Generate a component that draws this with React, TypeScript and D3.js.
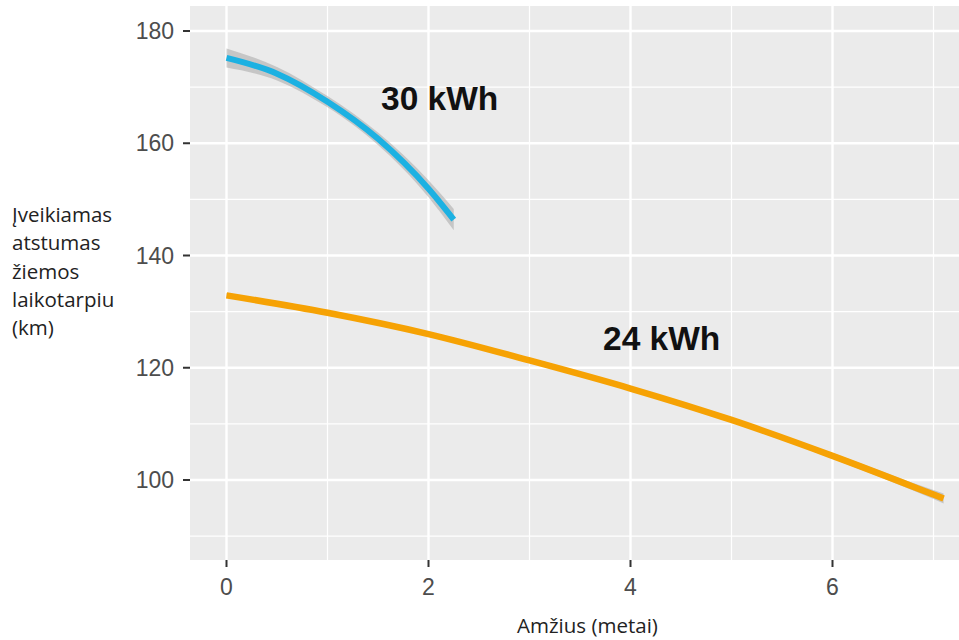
import React from "react";
import * as d3 from "d3";

// Fitted winter range (km) versus vehicle age (years) for two battery sizes
const agesBig = [0, 0.5, 1, 1.5, 2, 2.25];
const rangeBig = [175.2, 172.4, 167.4, 160.8, 151.9, 146.4];
const bandBig = [1.7, 1.2, 1.0, 1.1, 1.5, 1.9];

const agesSmall = [0, 1, 2, 3, 4, 5, 6, 7, 7.1];
const rangeSmall = [132.9, 129.8, 126.0, 121.3, 116.3, 110.7, 104.3, 97.4, 96.7];
const bandSmall = [0.4, 0.3, 0.3, 0.3, 0.3, 0.4, 0.5, 0.8, 0.9];

const xTicks = [0, 2, 4, 6];
const xMinor = [1, 3, 5, 7];
const yTicks = [100, 120, 140, 160, 180];
const yMinor = [90, 110, 130, 150, 170];

const seriesLabels = ["30 kWh", "24 kWh"];
const yTitleLines = ["Įveikiamas", "atstumas", "žiemos", "laikotarpiu", "(km)"];
const xTitle = "Amžius (metai)";

const W = 959;
const H = 640;
const panel = { left: 190, top: 6, right: 959, bottom: 560 };

export default function App() {
  const x = d3.scaleLinear().domain([0, 2]).range([226.5, 428.5]);
  const y = d3.scaleLinear().domain([100, 180]).range([480, 31]);

  const makeSeries = (ages: number[], vals: number[], band: number[]) =>
    ages.map((a, i) => ({ a, v: vals[i], lo: vals[i] - band[i], hi: vals[i] + band[i] }));

  const big = makeSeries(agesBig, rangeBig, bandBig);
  const small = makeSeries(agesSmall, rangeSmall, bandSmall);

  const line = d3
    .line<{ a: number; v: number }>()
    .x((d) => x(d.a))
    .y((d) => y(d.v))
    .curve(d3.curveMonotoneX);
  const area = d3
    .area<{ a: number; lo: number; hi: number }>()
    .x((d) => x(d.a))
    .y0((d) => y(d.lo))
    .y1((d) => y(d.hi))
    .curve(d3.curveMonotoneX);

  const tickFont = "'Liberation Sans', Arial, Helvetica, sans-serif";
  const titleFont = "'Open Sans', 'Noto Sans', sans-serif";

  return (
    <svg
      width={W}
      height={H}
      style={{ position: "absolute", left: 0, top: 0, background: "#fff" }}
    >
      <defs>
        <clipPath id="panelClip">
          <rect
            x={panel.left}
            y={panel.top}
            width={panel.right - panel.left}
            height={panel.bottom - panel.top}
          />
        </clipPath>
      </defs>
      <rect
        x={panel.left}
        y={panel.top}
        width={panel.right - panel.left}
        height={panel.bottom - panel.top}
        fill="#ebebeb"
      />
      <g clipPath="url(#panelClip)">
        {yMinor.map((t) => (
          <line key={"ym" + t} x1={panel.left} x2={panel.right} y1={y(t)} y2={y(t)} stroke="#fff" strokeWidth={1.2} />
        ))}
        {xMinor.map((t) => (
          <line key={"xm" + t} x1={x(t)} x2={x(t)} y1={panel.top} y2={panel.bottom} stroke="#fff" strokeWidth={1.2} />
        ))}
        {yTicks.map((t) => (
          <line key={"yg" + t} x1={panel.left} x2={panel.right} y1={y(t)} y2={y(t)} stroke="#fff" strokeWidth={2.4} />
        ))}
        {xTicks.map((t) => (
          <line key={"xg" + t} x1={x(t)} x2={x(t)} y1={panel.top} y2={panel.bottom} stroke="#fff" strokeWidth={2.4} />
        ))}
        <path d={area(big) || ""} fill="#a8a8a8" opacity={0.55} />
        <path d={line(big) || ""} fill="none" stroke="#1cb1e2" strokeWidth={6} />
        <path d={area(small) || ""} fill="#a8a8a8" opacity={0.55} />
        <path d={line(small) || ""} fill="none" stroke="#f6a204" strokeWidth={6.5} />
      </g>

      {yTicks.map((t) => (
        <g key={"yt" + t}>
          <line x1={panel.left - 7} x2={panel.left} y1={y(t)} y2={y(t)} stroke="#333" strokeWidth={2} />
          <text
            x={panel.left - 16}
            y={y(t)}
            dy="0.35em"
            textAnchor="end"
            fontFamily={tickFont}
            fontSize={23}
            fill="#4d4d4d"
          >
            {t}
          </text>
        </g>
      ))}
      {xTicks.map((t) => (
        <g key={"xt" + t}>
          <line x1={x(t)} x2={x(t)} y1={panel.bottom} y2={panel.bottom + 7} stroke="#333" strokeWidth={2} />
          <text
            x={x(t)}
            y={595}
            textAnchor="middle"
            fontFamily={tickFont}
            fontSize={23}
            fill="#4d4d4d"
          >
            {t}
          </text>
        </g>
      ))}

      <text x={381} y={110} fontFamily={tickFont} fontWeight="bold" fontSize={33.5} fill="#111">
        {seriesLabels[0]}
      </text>
      <text x={603} y={350} fontFamily={tickFont} fontWeight="bold" fontSize={33.5} fill="#111">
        {seriesLabels[1]}
      </text>

      {yTitleLines.map((s, i) => (
        <text key={s} x={12} y={222 + i * 28.3} fontFamily={titleFont} fontSize={20.5} fill="#222">
          {s}
        </text>
      ))}
      <text x={517} y={633} fontFamily={titleFont} fontSize={20.5} fill="#222">
        {xTitle}
      </text>
    </svg>
  );
}
